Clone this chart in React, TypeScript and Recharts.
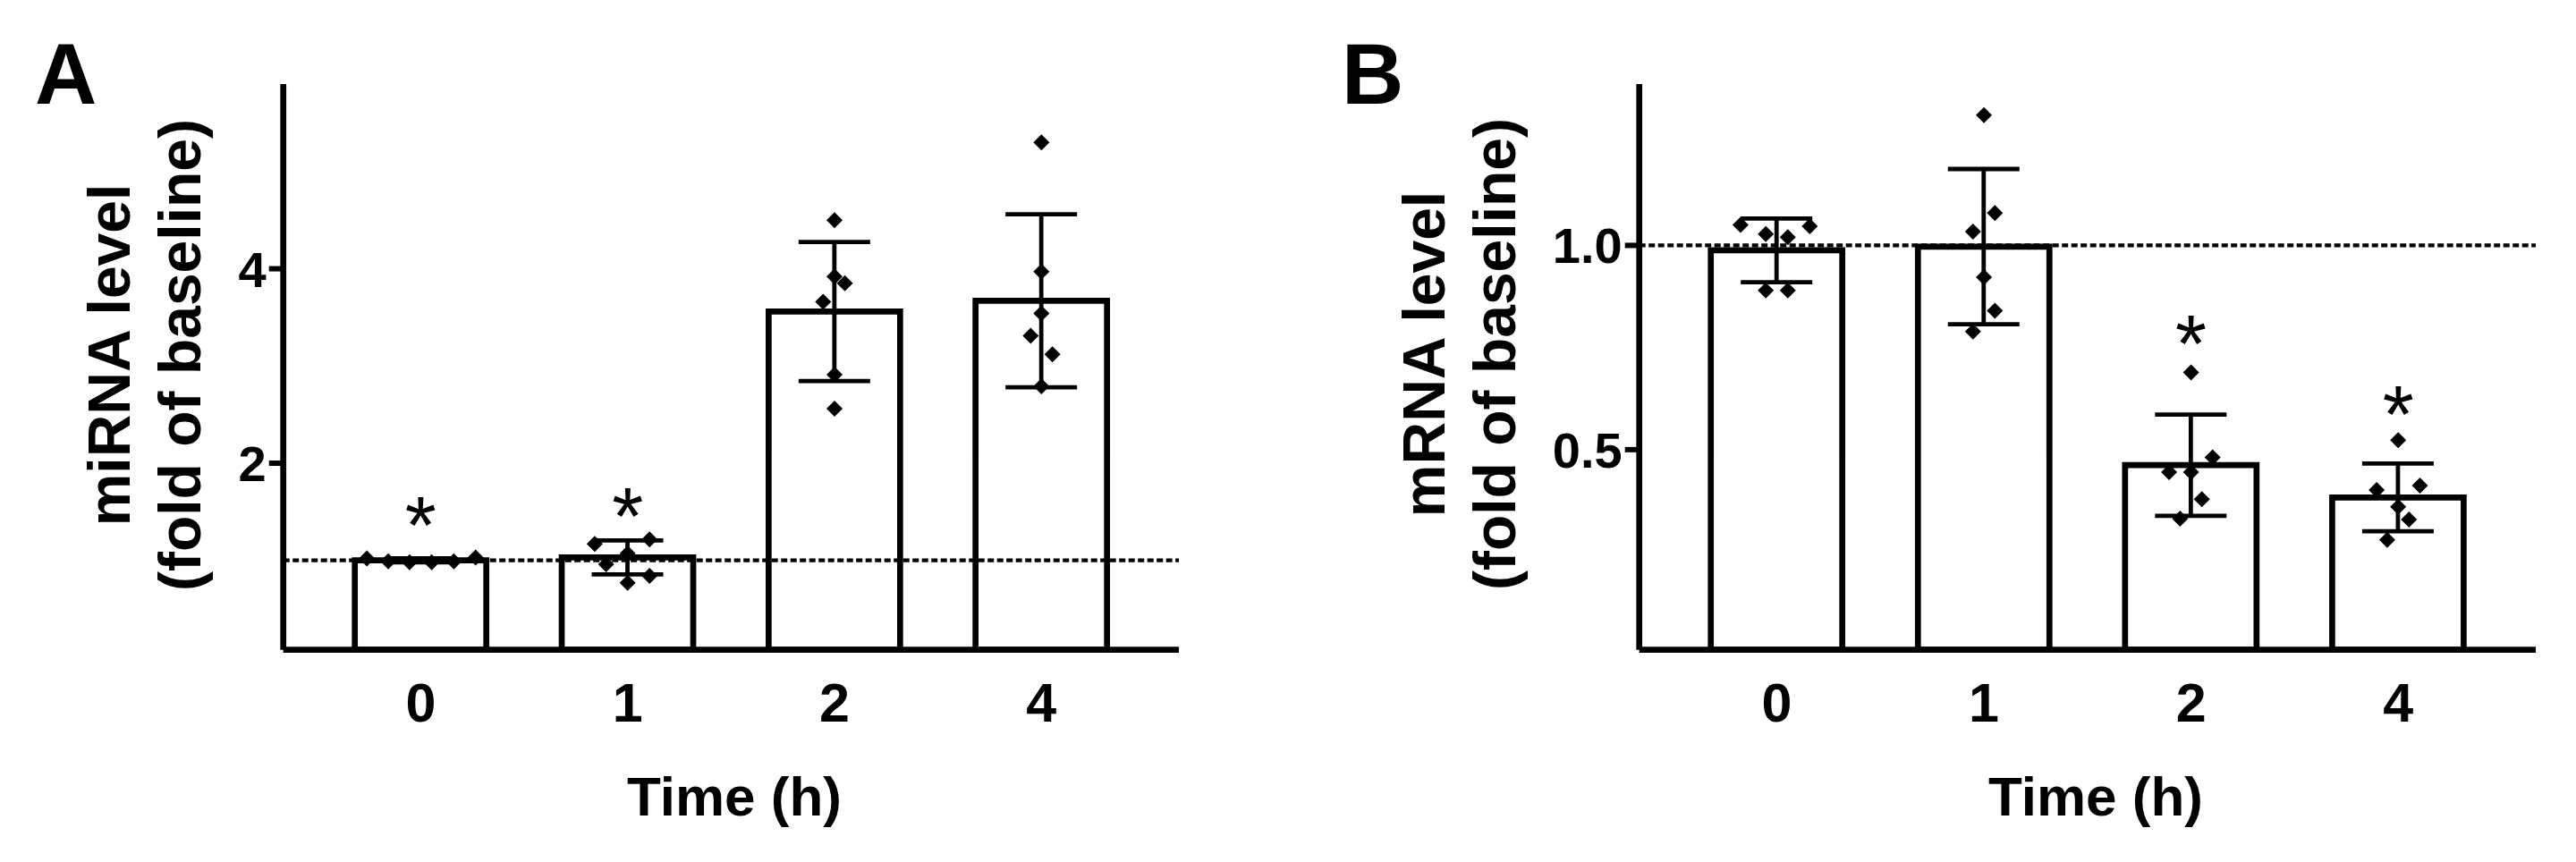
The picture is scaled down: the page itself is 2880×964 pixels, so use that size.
import React from 'react';
import { ComposedChart, Bar, ErrorBar, Scatter, XAxis, YAxis, ReferenceLine } from 'recharts';

const FONT = '"Liberation Sans", Arial, Helvetica, sans-serif';

// ---------- data ----------
const timeLabels = ['0', '1', '2', '4'];

// Panel A: miRNA
const mirnaMean = [1.0, 1.03, 3.56, 3.67];
const mirnaSd = [0.02, 0.175, 0.715, 0.89];
const mirnaPoints = [
  [1.02, 0.99, 0.98, 0.98, 0.99, 1.03],
  [1.17, 1.215, 1.07, 0.96, 0.84, 0.77],
  [4.5, 3.92, 3.85, 3.66, 2.91, 2.56],
  [5.3, 3.97, 3.54, 3.31, 3.12, 2.79],
];
const mirnaJitter = [
  [-0.26, -0.157, -0.054, 0.053, 0.16, 0.265],
  [-0.159, 0.106, 0, -0.104, 0.106, 0],
  [0, 0, 0.05, -0.055, 0, 0],
  [0, 0, 0, -0.052, 0.053, 0],
];
const mirnaStars = [1.53, 1.62, null, null];
const mirnaTicks = [2, 4];
const mirnaDomain = [0.08, 5.9];

// Panel B: mRNA
const mrnaMean = [0.988, 0.997, 0.462, 0.383];
const mrnaSd = [0.078, 0.19, 0.124, 0.083];
const mrnaPoints = [
  [1.05, 1.047, 1.028, 1.02, 0.89, 0.89],
  [1.319, 1.079, 1.034, 0.922, 0.84, 0.789],
  [0.689, 0.481, 0.445, 0.445, 0.379, 0.331],
  [0.523, 0.401, 0.412, 0.36, 0.329, 0.279],
];
const mrnaJitter = [
  [-0.175, 0.159, -0.053, 0.053, -0.053, 0.053],
  [0, 0.053, -0.053, 0, 0.053, -0.053],
  [0, 0.104, -0.106, 0, 0.052, -0.053],
  [0, -0.104, 0.105, 0, 0.052, -0.053],
];
const mrnaStars = [null, null, 0.8, 0.627];
const mrnaTicks = [0.5, 1.0];
const mrnaDomain = [0.01, 1.395];

// ---------- helpers ----------
function buildBars(mean: number[], sd: number[]) {
  return timeLabels.map((t, i) => ({ time: t, mean: mean[i], sd: sd[i] }));
}
function buildPoints(points: number[][], jitter: number[][]) {
  const out: { x: number; y: number }[] = [];
  points.forEach((arr, i) => arr.forEach((v, j) => out.push({ x: i + jitter[i][j], y: v })));
  return out;
}
function buildStars(stars: (number | null)[]) {
  const out: { x: number; y: number }[] = [];
  stars.forEach((v, i) => { if (v != null) out.push({ x: i, y: v }); });
  return out;
}

function Diamond(props: any) {
  const { cx, cy } = props;
  if (cx == null || cy == null) return null;
  const r = 9;
  return <polygon points={`${cx},${cy - r} ${cx + r},${cy} ${cx},${cy + r} ${cx - r},${cy}`} fill="#000" />;
}

function Star(props: any) {
  const { cx, cy } = props;
  if (cx == null || cy == null) return null;
  return (
    <text x={cx} y={cy + 50} textAnchor="middle" fontFamily={FONT} fontSize={90} fill="#000">*</text>
  );
}

function YTick(props: any) {
  const { x, y, payload, fmt } = props;
  return (
    <text x={x} y={y + 20} textAnchor="end" fontFamily={FONT} fontWeight="bold" fontSize={56} fill="#000">
      {fmt(payload.value)}
    </text>
  );
}

function XTick(props: any) {
  const { x, y, payload } = props;
  return (
    <text x={x} y={y + 80} textAnchor="middle" fontFamily={FONT} fontWeight="bold" fontSize={61} fill="#000">
      {payload.value}
    </text>
  );
}

function Titles(props: any) {
  const { letter, letterX, line1, line2, l1x, l2x, cy, xTitleX } = props;
  return (
    <g>
      <text x={letterX} y={116} fontFamily={FONT} fontWeight="bold" fontSize={96} fill="#000">{letter}</text>
      <text transform={`rotate(-90 ${l1x} ${cy})`} x={l1x} y={cy} textAnchor="middle" fontFamily={FONT} fontWeight="bold" fontSize={66} fill="#000">{line1}</text>
      <text transform={`rotate(-90 ${l2x} ${cy})`} x={l2x} y={cy} textAnchor="middle" fontFamily={FONT} fontWeight="bold" fontSize={66} fill="#000">{line2}</text>
      <text x={xTitleX} y={912} textAnchor="middle" fontFamily={FONT} fontWeight="bold" fontSize={62} fill="#000">Time (h)</text>
    </g>
  );
}

function Panel(props: any) {
  const { bars, points, stars, ticks, domain, fmt, yAxisWidth, rightMargin, titles } = props;
  const pad = { left: 38, right: 38 };
  return (
    <ComposedChart
      width={1440}
      height={964}
      data={bars}
      margin={{ top: 94, right: rightMargin, bottom: 0, left: 0 }}
    >
      <XAxis
        dataKey="time"
        type="category"
        height={237.3}
        padding={pad}
        axisLine={{ stroke: '#000', strokeWidth: 6.7 }}
        tickLine={false}
        tickSize={0}
        tickMargin={0}
        tick={<XTick />}
        interval={0}
      />
      <XAxis xAxisId="pts" type="number" dataKey="x" domain={[-0.5, 3.5]} padding={pad} hide allowDataOverflow />
      <YAxis
        type="number"
        width={yAxisWidth}
        domain={domain}
        ticks={ticks}
        allowDataOverflow
        axisLine={{ stroke: '#000', strokeWidth: 6.7 }}
        tickLine={{ stroke: '#000', strokeWidth: 6 }}
        tickSize={16}
        tickMargin={3}
        tick={<YTick fmt={fmt} />}
        label={<Titles {...titles} />}
      />
      <ReferenceLine y={1} stroke="#000" strokeWidth={4.2} strokeDasharray="7 3.5" />
      <Bar dataKey="mean" fill="#fff" stroke="#000" strokeWidth={6.7} barSize={147} isAnimationActive={false}>
        <ErrorBar dataKey="sd" direction="y" width={40} stroke="#000" strokeWidth={4.8} isAnimationActive={false} />
      </Bar>
      <Scatter xAxisId="pts" data={points} dataKey="y" shape={<Diamond />} isAnimationActive={false} />
      <Scatter xAxisId="pts" data={stars} dataKey="y" shape={<Star />} isAnimationActive={false} />
    </ComposedChart>
  );
}

export default function App() {
  return (
    <div style={{ position: 'absolute', left: 0, top: 0, width: 2880, height: 964, background: '#fff' }}>
      <div style={{ position: 'absolute', left: 0, top: 0 }}>
        <Panel
          bars={buildBars(mirnaMean, mirnaSd)}
          points={buildPoints(mirnaPoints, mirnaJitter)}
          stars={buildStars(mirnaStars)}
          ticks={mirnaTicks}
          domain={mirnaDomain}
          fmt={(v: number) => String(v)}
          yAxisWidth={316.7}
          rightMargin={122}
          titles={{ letter: 'A', letterX: 39, line1: 'miRNA level', line2: '(fold of baseline)', l1x: 145, l2x: 224, cy: 397, xTitleX: 821 }}
        />
      </div>
      <div style={{ position: 'absolute', left: 1440, top: 0 }}>
        <Panel
          bars={buildBars(mrnaMean, mrnaSd)}
          points={buildPoints(mrnaPoints, mrnaJitter)}
          stars={buildStars(mrnaStars)}
          ticks={mrnaTicks}
          domain={mrnaDomain}
          fmt={(v: number) => v.toFixed(1)}
          yAxisWidth={392.7}
          rightMargin={45}
          titles={{ letter: 'B', letterX: 60, line1: 'mRNA level', line2: '(fold of baseline)', l1x: 175, l2x: 254, cy: 396, xTitleX: 903 }}
        />
      </div>
    </div>
  );
}
